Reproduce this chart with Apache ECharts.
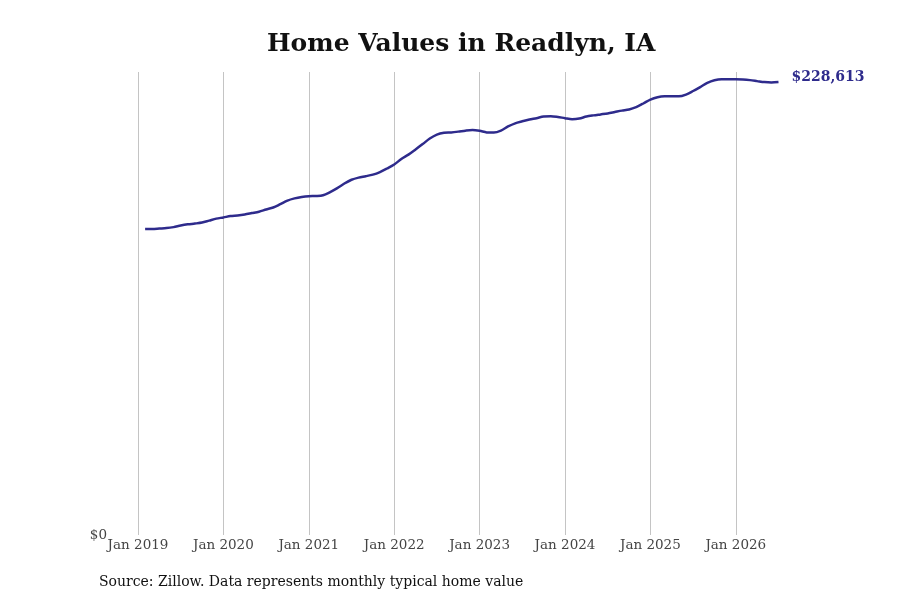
<!DOCTYPE html>
<html>
<head>
<meta charset="utf-8">
<title>Home Values in Readlyn, IA</title>
<script src="https://cdn.jsdelivr.net/npm/echarts@6/dist/echarts.min.js"></script>
<style>
  html, body { margin: 0; padding: 0; background: #fff; }
  #chart { width: 900px; height: 600px; }
</style>
</head>
<body>
<div id="chart"></div>
<script>
// months from Jan 2019 to Jul 2026, first value is Feb 2019
var startYear = 2019;
var monthCount = 91;
var yearTicks = ['Jan 2019', 'Jan 2020', 'Jan 2021', 'Jan 2022', 'Jan 2023', 'Jan 2024', 'Jan 2025', 'Jan 2026'];

// typical home value, monthly
var values2019 = [null, 154400, 154500, 154700, 154900, 155400, 156200, 156800, 157200, 157700, 158700, 159700];
var values2020 = [160300, 161000, 161300, 161800, 162500, 163200, 164300, 165300, 167000, 168800, 169900, 170600];
var values2021 = [171000, 171100, 171500, 173100, 175100, 177400, 179300, 180400, 181100, 181900, 183200, 185000];
var values2022 = [187000, 189800, 192000, 194600, 197300, 200100, 202100, 203000, 203200, 203600, 204100, 204400];
var values2023 = [204000, 203200, 203100, 204100, 206200, 207800, 208800, 209700, 210400, 211200, 211400, 211000];
var values2024 = [210400, 209900, 210200, 211200, 211800, 212300, 212800, 213500, 214200, 214800, 216000, 217800];
var values2025 = [219800, 221000, 221400, 221400, 221400, 222300, 224100, 226100, 228200, 229500, 230000, 230000];
var values2026 = [230000, 229900, 229600, 229100, 228600, 228400, 228613];

var yMax = 233700;

var months = [];
for (var i = 0; i < monthCount; i++) {
    months.push((startYear + Math.floor(i / 12)) + '-' + ('0' + (i % 12 + 1)).slice(-2));
}
var values = [].concat(values2019, values2020, values2021, values2022,
    values2023, values2024, values2025, values2026);

function fmtMoney(v) {
    return '$' + Math.round(v).toString().replace(/\B(?=(\d{3})+(?!\d))/g, ',');
}

var chart = echarts.init(document.getElementById('chart'));
chart.setOption({
    backgroundColor: '#ffffff',
    animation: false,
    textStyle: { fontFamily: 'DejaVu Serif' },
    title: [{
        text: 'Home Values in Readlyn, IA',
        left: 267,
        top: 32,
        padding: 0,
        textStyle: { fontFamily: 'DejaVu Serif', fontWeight: 'bold', fontSize: 25, color: '#111' }
    }, {
        text: 'Source: Zillow. Data represents monthly typical home value',
        left: 99,
        top: 575,
        padding: 0,
        textStyle: { fontFamily: 'DejaVu Serif', fontWeight: 'normal', fontSize: 14, color: '#111' }
    }],
    grid: { left: 138, right: 121.5, top: 72, bottom: 65 },
    xAxis: {
        type: 'category',
        data: months,
        boundaryGap: false,
        axisLine: { show: false },
        axisTick: { show: false },
        axisLabel: {
            interval: function (idx) { return idx % 12 === 0; },
            formatter: function (v, idx) { return yearTicks[idx / 12] || ''; },
            fontFamily: 'DejaVu Serif',
            fontSize: 13.5,
            color: '#444',
            margin: 3
        },
        splitLine: {
            show: true,
            interval: function (idx) { return idx % 12 === 0; },
            lineStyle: { color: '#c4c4c4', width: 1 }
        }
    },
    yAxis: {
        type: 'value',
        min: 0,
        max: yMax,
        interval: yMax,
        axisLine: { show: false },
        axisTick: { show: false },
        splitLine: { show: false },
        axisLabel: {
            formatter: function (v) { return v === 0 ? '$0' : ''; },
            fontFamily: 'DejaVu Serif',
            fontSize: 13.5,
            color: '#444',
            margin: 31
        }
    },
    series: [{
        type: 'line',
        data: values,
        smooth: 0.3,
        showSymbol: false,
        connectNulls: false,
        lineStyle: { color: '#2e2b8c', width: 2.5 },
        endLabel: {
            show: true,
            distance: 13,
            formatter: function (p) { return fmtMoney(p.value); },
            fontFamily: 'DejaVu Serif',
            fontWeight: 'bold',
            fontSize: 14,
            color: '#2e2b8c',
            offset: [0, -5]
        }
    }]
});
</script>
</body>
</html>
